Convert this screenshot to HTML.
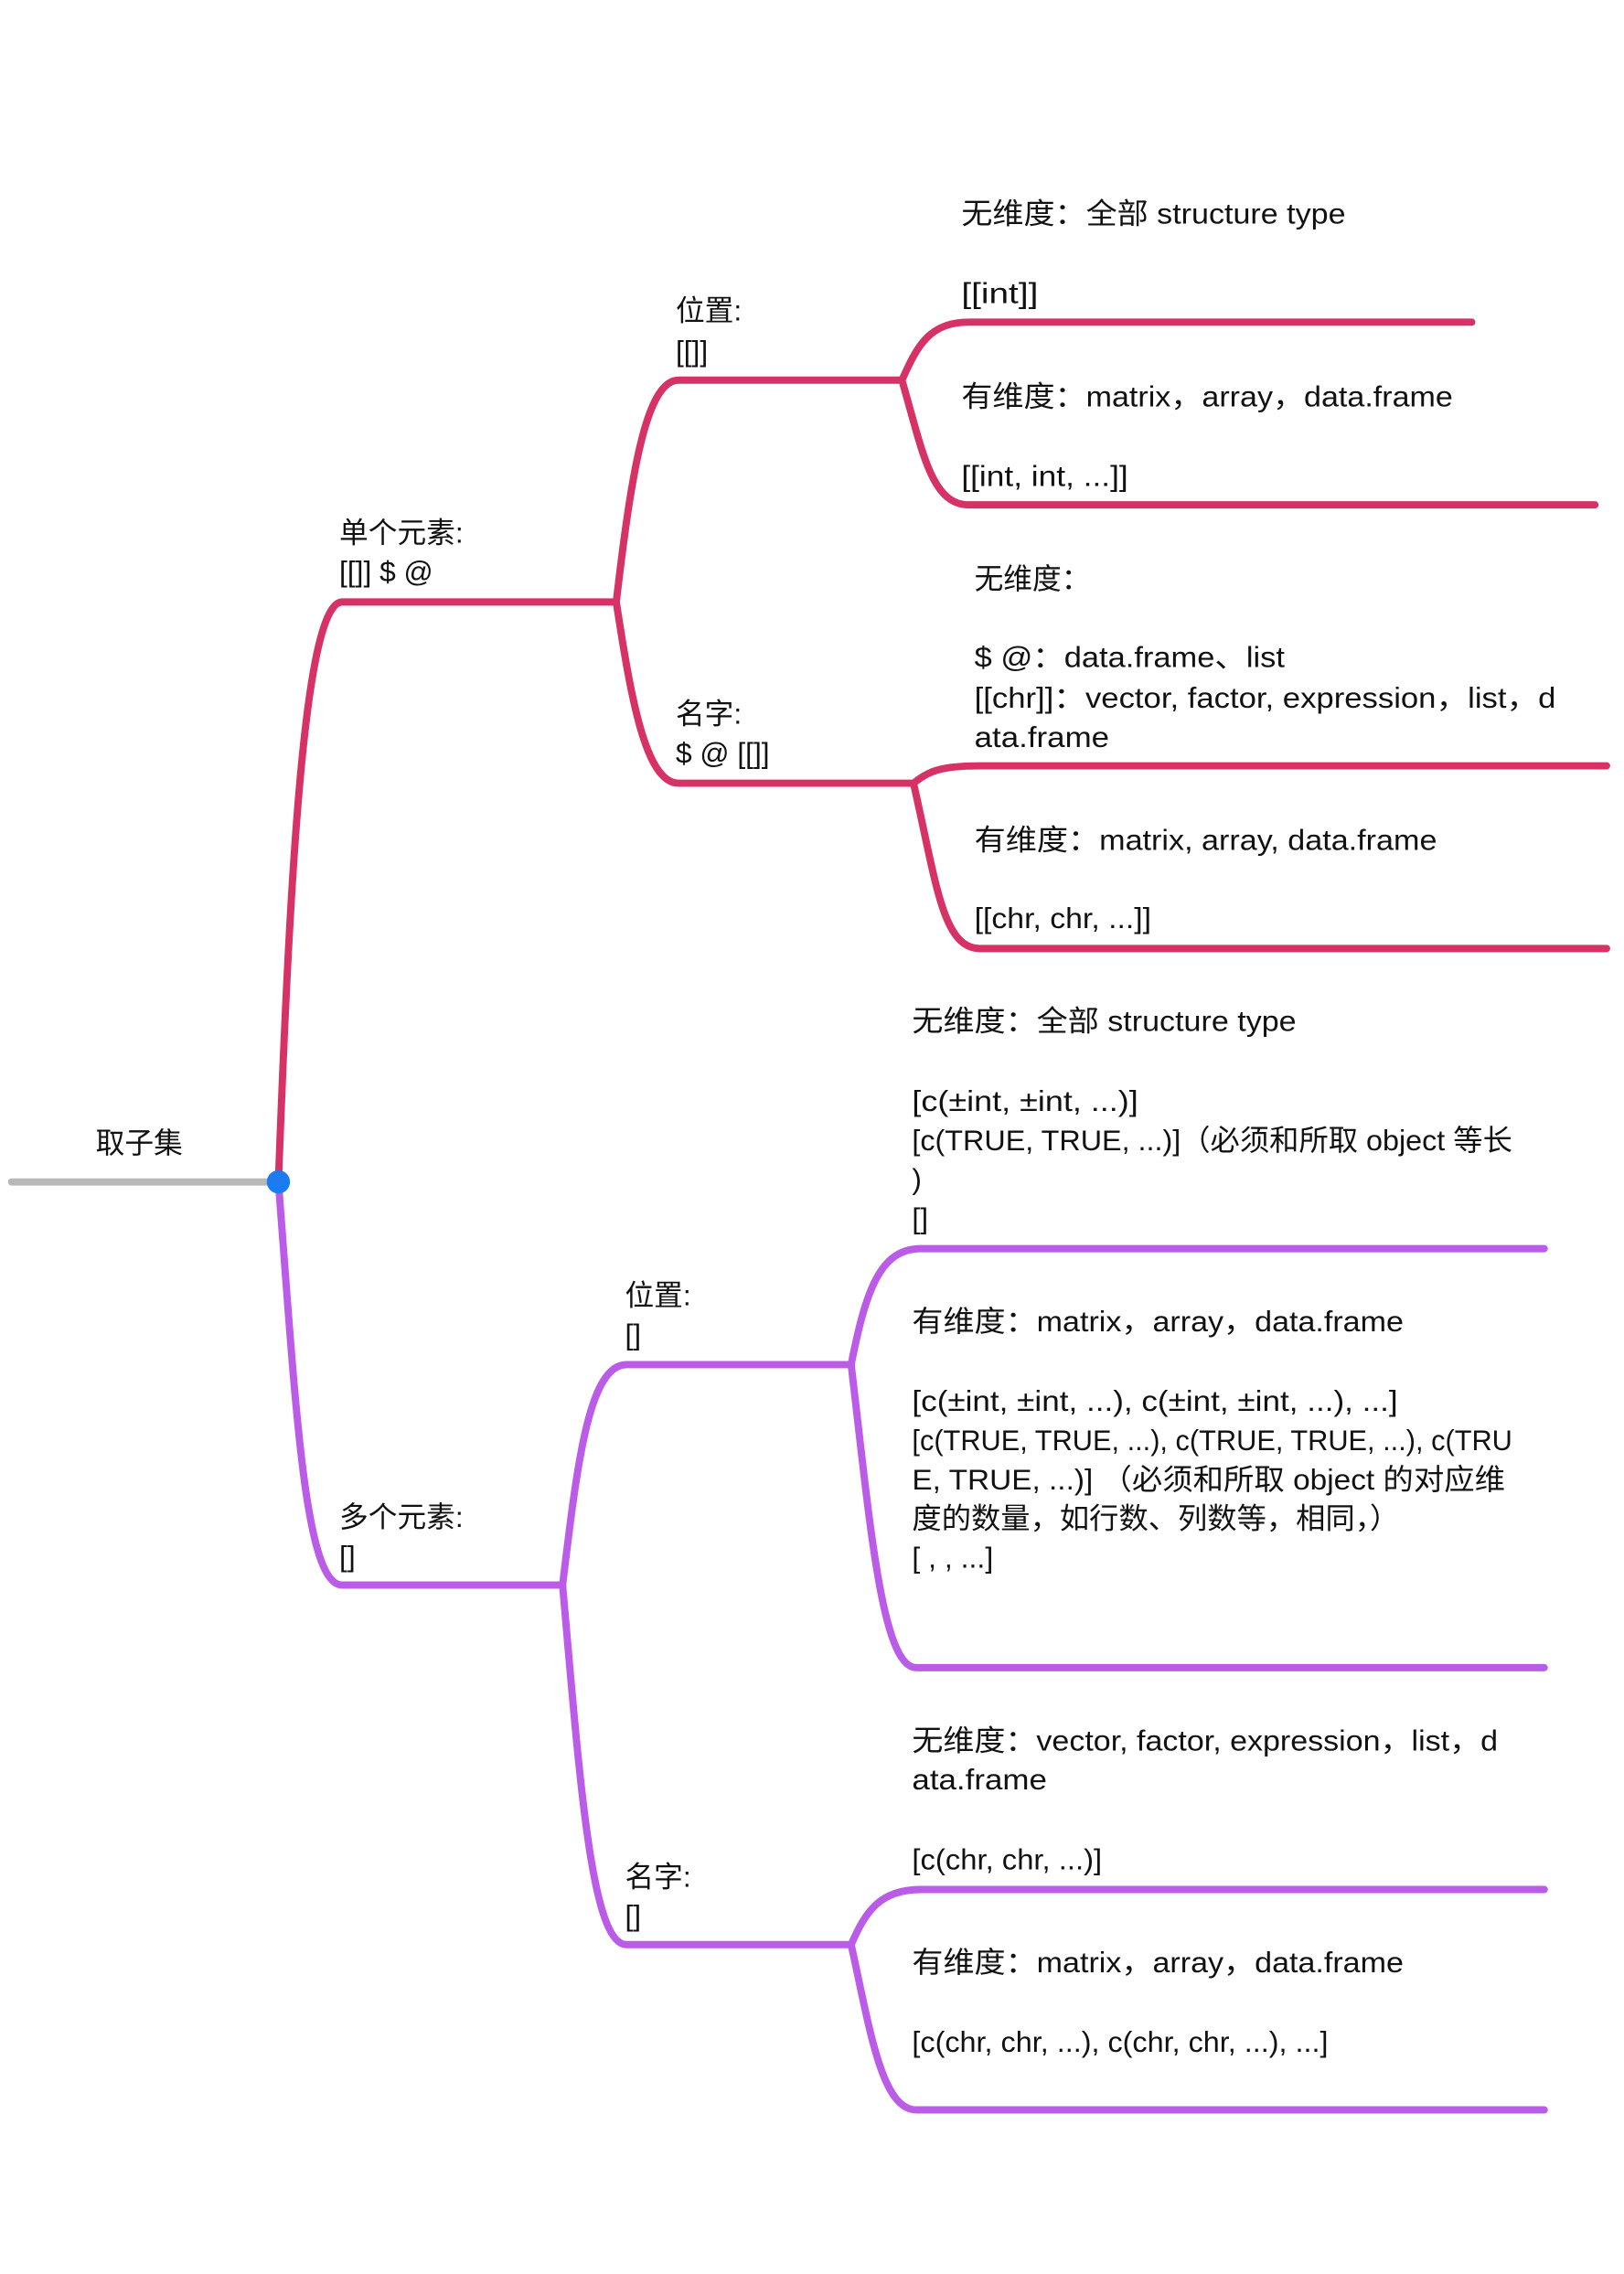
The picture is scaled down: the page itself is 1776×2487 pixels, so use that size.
<!DOCTYPE html>
<html><head><meta charset="utf-8"><style>
html,body{margin:0;padding:0;background:#fff;}
svg{display:block;}
text{font-family:"Liberation Sans","Noto Sans CJK SC",sans-serif;font-size:20px;fill:#111;}
</style></head><body>
<svg width="1776" height="2487" viewBox="0 0 1120 1568" xmlns="http://www.w3.org/2000/svg">
<rect width="1120" height="1568" fill="#fff"/>
<g fill="none" stroke-width="5" stroke-linecap="round">
<line x1="8" y1="815" x2="192" y2="815" stroke="#b8b8b8"/>
<g stroke="#d63266">
<path d="M192 815 C200 600 210 415 236 415 L425 415"/>
<path d="M425 415 C435 330 445 262 468 262 L622 262"/>
<path d="M425 415 C435 480 445 540 468 540 L630 540"/>
<path d="M622 262 C632 240 640 222 668 222 L1015 222"/>
<path d="M622 262 C636 310 642 348 668 348 L1100 348"/>
<path d="M630 540 C640 532 648 528 676 528 L1108 528"/>
<path d="M630 540 C646 610 650 654 676 654 L1108 654"/>
</g>
<g stroke="#bb5ce8">
<path d="M192 815 C204 970 210 1093 236 1093 L388 1093"/>
<path d="M388 1093 C398 1010 406 941 432 941 L587 941"/>
<path d="M388 1093 C400 1230 408 1341 432 1341 L587 1341"/>
<path d="M587 941 C597 890 607 861 635 861 L1065 861"/>
<path d="M587 941 C600 1050 608 1150 632 1150 L1065 1150"/>
<path d="M587 1341 C597 1318 607 1303 635 1303 L1065 1303"/>
<path d="M587 1341 C600 1400 608 1455 632 1455 L1065 1455"/>
</g>
</g>
<circle cx="192" cy="815" r="8" fill="#1a7cf0"/>
<text x="66" y="795">取子集</text>
<text x="234" y="374">单个元素:</text>
<text x="234" y="401">[[]] $ @</text>
<text x="466" y="221">位置:</text>
<text x="466" y="249">[[]]</text>
<text x="466" y="499">名字:</text>
<text x="466" y="526">$ @ [[]]</text>
<text x="663" y="154" textLength="265" lengthAdjust="spacingAndGlyphs">无维度：全部 structure type</text>
<text x="663" y="209" textLength="53" lengthAdjust="spacingAndGlyphs">[[int]]</text>
<text x="663" y="280" textLength="339" lengthAdjust="spacingAndGlyphs">有维度：matrix，array，data.frame</text>
<text x="663" y="335" textLength="115" lengthAdjust="spacingAndGlyphs">[[int, int, ...]]</text>
<text x="672" y="406">无维度：</text>
<text x="672" y="460" textLength="214" lengthAdjust="spacingAndGlyphs">$ @：data.frame、list</text>
<text x="672" y="488" textLength="401" lengthAdjust="spacingAndGlyphs">[[chr]]：vector, factor, expression，list，d</text>
<text x="672" y="515" textLength="93" lengthAdjust="spacingAndGlyphs">ata.frame</text>
<text x="672" y="586" textLength="319" lengthAdjust="spacingAndGlyphs">有维度：matrix, array, data.frame</text>
<text x="672" y="640" textLength="122" lengthAdjust="spacingAndGlyphs">[[chr, chr, ...]]</text>
<text x="234" y="1053">多个元素:</text>
<text x="234" y="1080">[]</text>
<text x="431" y="900">位置:</text>
<text x="431" y="927">[]</text>
<text x="431" y="1301">名字:</text>
<text x="431" y="1328">[]</text>
<text x="629" y="711" textLength="265" lengthAdjust="spacingAndGlyphs">无维度：全部 structure type</text>
<text x="629" y="766" textLength="156" lengthAdjust="spacingAndGlyphs">[c(±int, ±int, ...)]</text>
<text x="629" y="793" textLength="414" lengthAdjust="spacingAndGlyphs">[c(TRUE, TRUE, ...)]（必须和所取 object 等长</text>
<text x="629" y="820">)</text>
<text x="629" y="847">[]</text>
<text x="629" y="918" textLength="339" lengthAdjust="spacingAndGlyphs">有维度：matrix，array，data.frame</text>
<text x="629" y="973" textLength="335" lengthAdjust="spacingAndGlyphs">[c(±int, ±int, ...), c(±int, ±int, ...), ...]</text>
<text x="629" y="1000" textLength="414" lengthAdjust="spacingAndGlyphs">[c(TRUE, TRUE, ...), c(TRUE, TRUE, ...), c(TRU</text>
<text x="629" y="1027" textLength="409" lengthAdjust="spacingAndGlyphs">E, TRUE, ...)]    （必须和所取 object 的对应维</text>
<text x="629" y="1054" textLength="336" lengthAdjust="spacingAndGlyphs">度的数量，如行数、列数等，相同，）</text>
<text x="629" y="1081" textLength="56" lengthAdjust="spacingAndGlyphs">[ , , ...]</text>
<text x="629" y="1207" textLength="404" lengthAdjust="spacingAndGlyphs">无维度：vector, factor, expression，list，d</text>
<text x="629" y="1234" textLength="93" lengthAdjust="spacingAndGlyphs">ata.frame</text>
<text x="629" y="1289" textLength="131" lengthAdjust="spacingAndGlyphs">[c(chr, chr, ...)]</text>
<text x="629" y="1360" textLength="339" lengthAdjust="spacingAndGlyphs">有维度：matrix，array，data.frame</text>
<text x="629" y="1415" textLength="287" lengthAdjust="spacingAndGlyphs">[c(chr, chr, ...), c(chr, chr, ...), ...]</text>
</svg>
</body></html>
